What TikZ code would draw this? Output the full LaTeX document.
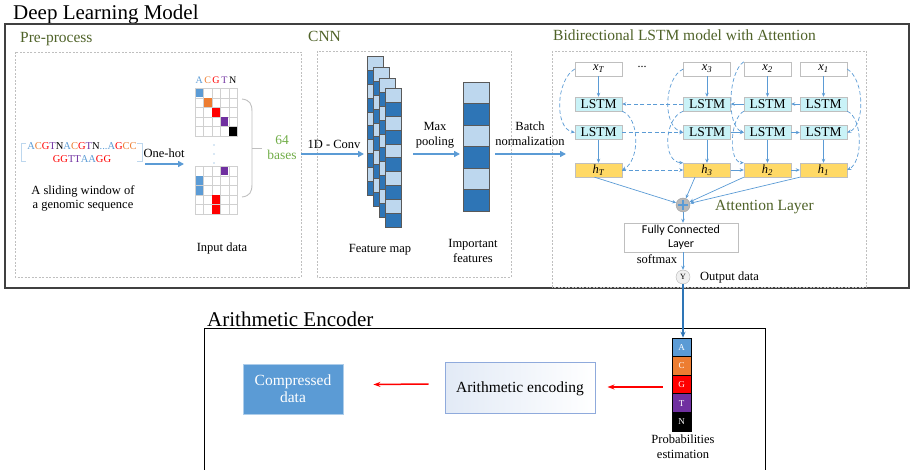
\documentclass[tikz,border=0pt]{standalone}
\usepackage{fontspec}
\setmainfont{Liberation Serif}
\newfontfamily\carlitofont{Carlito}
\usetikzlibrary{arrows.meta,calc}
\definecolor{lblue}{HTML}{5B9BD5}
\definecolor{sblue}{HTML}{2E75B6}
\definecolor{cellL}{HTML}{BDD7EE}
\definecolor{cellD}{HTML}{2E75B6}
\definecolor{dkgreen}{HTML}{4F6228}
\definecolor{ltgreen}{HTML}{70AD47}
\definecolor{nA}{HTML}{5B9BD5}
\definecolor{nC}{HTML}{ED7D31}
\definecolor{nG}{HTML}{FF0000}
\definecolor{nT}{HTML}{7030A0}
\definecolor{cyanfill}{HTML}{C9F2F7}
\definecolor{gold}{HTML}{FFD966}
\definecolor{boxgray}{HTML}{BFBFBF}
\definecolor{gridgray}{HTML}{D0D0D0}
\definecolor{aeborder}{HTML}{8FAADC}
\definecolor{aefill}{HTML}{E2EAF6}
\definecolor{brack}{HTML}{BDD7EE}
\newcommand\nucA{\textcolor{nA}{A}}
\newcommand\nucC{\textcolor{nC}{C}}
\newcommand\nucG{\textcolor{nG}{G}}
\newcommand\nucT{\textcolor{nT}{T}}
\tikzset{
  bigtitle/.style={font=\fontsize{21}{25}\selectfont, anchor=base west, inner sep=0pt},
  secttl/.style={font=\fontsize{15.5}{18}\selectfont, text=dkgreen, anchor=base west, inner sep=0pt},
  lbl/.style={font=\fontsize{12.5}{15}\selectfont, anchor=base, inner sep=0pt},
  grn/.style={font=\fontsize{13.5}{16}\selectfont, text=ltgreen, anchor=base, inner sep=0pt},
  seqtext/.style={font=\fontsize{10.5}{12}\selectfont, anchor=base, inner sep=0pt},
  region/.style={draw=boxgray, dash pattern=on 2pt off 1.5pt, line width=0.6pt},
  flow/.style={draw=lblue, line width=1.5pt, -{Triangle[length=6pt,width=6pt]}},
  larr/.style={draw=lblue, line width=0.7pt, -{Stealth[length=4pt,width=3.5pt]}},
  ldash/.style={larr, dash pattern=on 4pt off 2.5pt},
  redarr/.style={draw=red, line width=1.5pt, -{Stealth[length=7pt,width=5pt]}},
  xbox/.style={draw=boxgray, fill=white, minimum width=47pt, minimum height=14pt, inner sep=0pt, font=\fontsize{12.5}{14}\selectfont\itshape},
  lstm/.style={draw=boxgray, fill=cyanfill, minimum width=47pt, minimum height=14pt, inner sep=0pt, font=\fontsize{13.5}{15}\selectfont},
  hbox/.style={draw=boxgray, fill=gold, minimum width=47pt, minimum height=14pt, inner sep=0pt, font=\fontsize{12.5}{14}\selectfont\itshape},
  mcell/.style={draw=gridgray, line width=0.8pt, fill=white, minimum width=8.4pt, minimum height=9.6pt, inner sep=0pt, anchor=north west},
  ccell/.style={minimum width=7.6pt, minimum height=8.8pt, inner sep=0pt, anchor=north west},
  fcell/.style={draw=black!65, line width=0.5pt, minimum width=16pt, minimum height=13.9pt, inner sep=0pt, anchor=north west},
  icell/.style={draw=black!65, line width=0.5pt, minimum width=26pt, minimum height=21.5pt, inner sep=0pt, anchor=north west},
  pcell/.style={draw=black, line width=0.6pt, minimum width=19pt, minimum height=18.6pt, inner sep=0pt, text=white, font=\fontsize{9}{10}\selectfont},
}
\begin{document}
\begin{tikzpicture}[x=1pt,y=-1pt]
\useasboundingbox (0,0) rectangle (911,470);

% ---------- titles and frames ----------
\node[bigtitle] (t1) at (13,20) {Deep Learning Model};
\node[bigtitle] (t2) at (207,327) {Arithmetic Encoder};
\draw[line width=1.2pt, draw=black!75] (5,24) rectangle (909,288);
\draw[line width=1pt] (204,480) -- (204,329) -- (765,329) -- (765,480);

\draw[region] (15,52) rectangle (301,277);
\draw[region] (317,51) rectangle (511,277);
\draw[region] (552,51) rectangle (866,287);
\node[secttl] (tpre) at (20,43) {Pre-process};
\node[secttl] (tcnn) at (308,42) {CNN};
\node[secttl] (tlstm) at (553,41) {Bidirectional LSTM model with Attention};

% ---------- pre-process ----------
\draw[brack, line width=1pt] (26,144) -- (21,144) -- (21,162) -- (26,162);
\draw[brack, line width=1pt] (137,144) -- (142,144) -- (142,162) -- (137,162);
\node[seqtext] (s1) at (82,150) {\nucA\nucC\nucG\nucT N\nucA\nucC\nucG\nucT N\textcolor{nA}{...}\nucA\nucG\nucC\nucC};
\node[seqtext] (s2) at (82,163) {\nucG\nucG\nucT\nucT\nucA\nucA\nucG\nucG};
\node[lbl] (onehot) at (164,158) {One-hot};
\coordinate (oh1) at (145,164);
\coordinate (oh2) at (184,164);
\draw[flow] (oh1) -- (oh2);
\node[lbl] (sw1) at (83,195) {A sliding window of};
\node[lbl] (sw2) at (83,209) {a genomic sequence};

\foreach \c/\L/\col in {0/A/nA,1/C/nC,2/G/nG,3/T/nT,4/N/black} {
  \node[font=\fontsize{10}{11}\selectfont, text=\col, anchor=base, inner sep=0pt] (hd\L) at (199.2+\c*8.4,84) {\L};
}
\foreach \r in {0,...,4} {
  \foreach \c in {0,...,4} {
    \node[mcell] (ma-\r-\c) at (195+\c*8.4,88+\r*9.6) {};
    \node[mcell] (mb-\r-\c) at (195+\c*8.4,166+\r*9.6) {};
  }
}
\foreach \r/\c/\col in {0/0/nA,1/1/nC,2/2/nG,3/3/nT,4/4/black} {
  \node[ccell, fill=\col] (da-\r) at (195.4+\c*8.4,88.4+\r*9.6) {};
}
\foreach \r/\c/\col in {0/3/nT,1/0/nA,2/0/nA,3/2/nG,4/2/nG} {
  \node[ccell, fill=\col] (db-\r) at (195.4+\c*8.4,166.4+\r*9.6) {};
}
\foreach \y in {145,154,163} {
  \fill[lblue] (214,\y) circle (0.7);
}
\draw[boxgray, line width=0.9pt] (242,99) .. controls (250,100) and (252,104) .. (252,112) -- (252,184) .. controls (252,192) and (250,196) .. (242,197);
\draw[boxgray, line width=0.9pt] (252,148) -- (262,148);
\node[grn] (b64) at (282,145) {64};
\node[grn] (bases) at (282,160) {bases};
\node[lbl] (input) at (222,252) {Input data};

% ---------- CNN ----------
\node[lbl] (featmaplabel) at (380,253) {Feature map};
\node[lbl] (conv) at (334,149) {1D - Conv};
\coordinate (cv1) at (301,154);
\coordinate (cv2) at (364,154);
\draw[flow] (cv1) -- (cv2);
\foreach \k/\x/\y in {1/367/56,2/373/67,3/379/78,4/385/88} {
  \foreach \i [evaluate=\i as \j using int(\i+1)] in {0,2,4,6,8} {
    \node[fcell, fill=cellL] (f\k-\i) at (\x,\y+\i*13.9) {};
    \node[fcell, fill=cellD] (f\k-\j) at (\x,\y+\i*13.9+13.9) {};
  }
}
\node[lbl] (max) at (435,131) {Max};
\node[lbl] (pool) at (435,146) {pooling};
\coordinate (mp1) at (413,154);
\coordinate (mp2) at (460,154);
\draw[flow] (mp1) -- (mp2);
\foreach \i [evaluate=\i as \j using int(\i+1)] in {0,2,4} {
  \node[icell, fill=cellL] (im-\i) at (463,82+\i*21.5) {};
  \node[icell, fill=cellD] (im-\j) at (463,82+\i*21.5+21.5) {};
}
\node[lbl] (imp1) at (473,248) {Important};
\node[lbl] (imp2) at (473,263) {features};
\node[lbl] (batch) at (530,131) {Batch};
\node[lbl] (norm) at (530,146) {normalization};
\coordinate (bn1) at (495,154);
\coordinate (bn2) at (566,154);
\draw[flow] (bn1) -- (bn2);

% ---------- LSTM ----------
\foreach \c/\x/\s in {T/598.5/T,3/707/3,2/767.5/2,1/823.5/1} {
  \node[xbox] (x\c) at (\x,69) {x\textsubscript{\s}};
  \node[lstm] (L1\c) at (\x,104) {LSTM};
  \node[lstm] (L2\c) at (\x,132.5) {LSTM};
  \node[hbox] (h\c) at (\x,170) {h\textsubscript{\s}};
  \draw[larr] (x\c) -- (L1\c);
  \draw[larr] (L2\c) -- (h\c);
}
\node[font=\fontsize{12}{14}\selectfont, inner sep=0pt] (dots) at (642,67) {...};
\draw[larr] (L11) -- (L12);
\draw[larr] (L12) -- (L13);
\draw[ldash] (L13) -- (L1T);
\draw[ldash] (L2T) -- (L23);
\draw[larr] (L23) -- (L22);
\draw[larr] (L22) -- (L21);
\draw[ldash] (hT) -- (h3);
\draw[larr] (h3) -- (h2);
\draw[larr] (h2) -- (h1);

\draw[ldash] (xT.west) .. controls (556,80) and (554,128) .. (L2T.west);
\draw[ldash] (L1T.south east) .. controls (640,118) and (640,160) .. (hT.east);
\draw[ldash] (x3.west) .. controls (664,78) and (662,126) .. (L23.west);
\draw[ldash] (L13.south west) .. controls (664,118) and (662,162) .. (h3.north west);
\draw[ldash] (x2.north west) .. controls (728,72) and (726,126) .. (L22.west);
\draw[ldash] (L12.south west) .. controls (730,118) and (728,162) .. (h2.north west);
\draw[ldash] (x1.east) .. controls (865,80) and (865,126) .. (L21.east);
\draw[ldash] (L11.south east) .. controls (863,118) and (863,162) .. (h1.east);

\node[circle, fill=gray!55, draw=gray!75, minimum size=14pt, inner sep=0pt] (att) at (683,205) {};
\draw[lblue, line width=1.2pt] ($(att.center)+(-5,0)$) -- ($(att.center)+(5,0)$);
\draw[lblue, line width=1.2pt] ($(att.center)+(0,-5)$) -- ($(att.center)+(0,5)$);
\draw[larr] ($(hT.south)+(-4,0)$) -- (att);
\draw[larr] ($(h3.south)+(-12,0)$) -- (att);
\draw[larr] (h2.south west) -- (att);
\draw[larr] (h1.south west) -- (att);
\node[secttl] (attl) at (715,211) {Attention Layer};

\node[draw=boxgray, fill=white, minimum width=114pt, minimum height=29pt, inner sep=0pt, align=center, font=\carlitofont\fontsize{12}{14}\selectfont] (fc) at (681,237.5) {Fully Connected\\Layer};
\draw[larr] (att) -- (att |- fc.north);
\node[circle, draw=gray!60, fill=gray!12, minimum size=14pt, inner sep=0pt, font=\fontsize{8}{9}\selectfont] (Y) at (683,277) {Y};
\draw[larr] (fc.south -| Y) -- (Y);
\node[lbl] (soft) at (657,264) {softmax};
\node[lbl, anchor=base west] (outd) at (700,281) {Output data};

% ---------- arithmetic encoder ----------
\foreach \i/\L/\col in {0/A/nA,1/C/nC,2/G/nG,3/T/nT,4/N/black} {
  \node[pcell, fill=\col] (p\L) at (681.5,347.3+\i*18.6) {\L};
}
\draw[sblue, line width=1.6pt, -{Stealth[length=6pt,width=5pt]}] (Y) -- (Y |- pA.north);
\node[lbl] (prob1) at (683,443) {Probabilities};
\node[lbl] (prob2) at (683,458) {estimation};

\node[draw=aeborder, line width=1pt, left color=aefill, right color=white, minimum width=150pt, minimum height=51pt, inner sep=0pt, font=\fontsize{15.5}{18}\selectfont] (ae) at (520,388.5) {Arithmetic encoding};
\node[fill=nA, draw=nA!50, line width=0.8pt, minimum width=100pt, minimum height=50pt, inner sep=0pt, text=white, align=center, font=\fontsize{15.5}{17}\selectfont] (cd) at (293,389) {Compressed\\data};
\draw[redarr] ($(pG.west)+(-9,2.5)$) -- ($(ae.east)+(12,-1.5)$);
\draw[redarr] ($(ae.west)+(-16,-4.5)$) -- ($(cd.east)+(30,-4.5)$);
\end{tikzpicture}
\end{document}
